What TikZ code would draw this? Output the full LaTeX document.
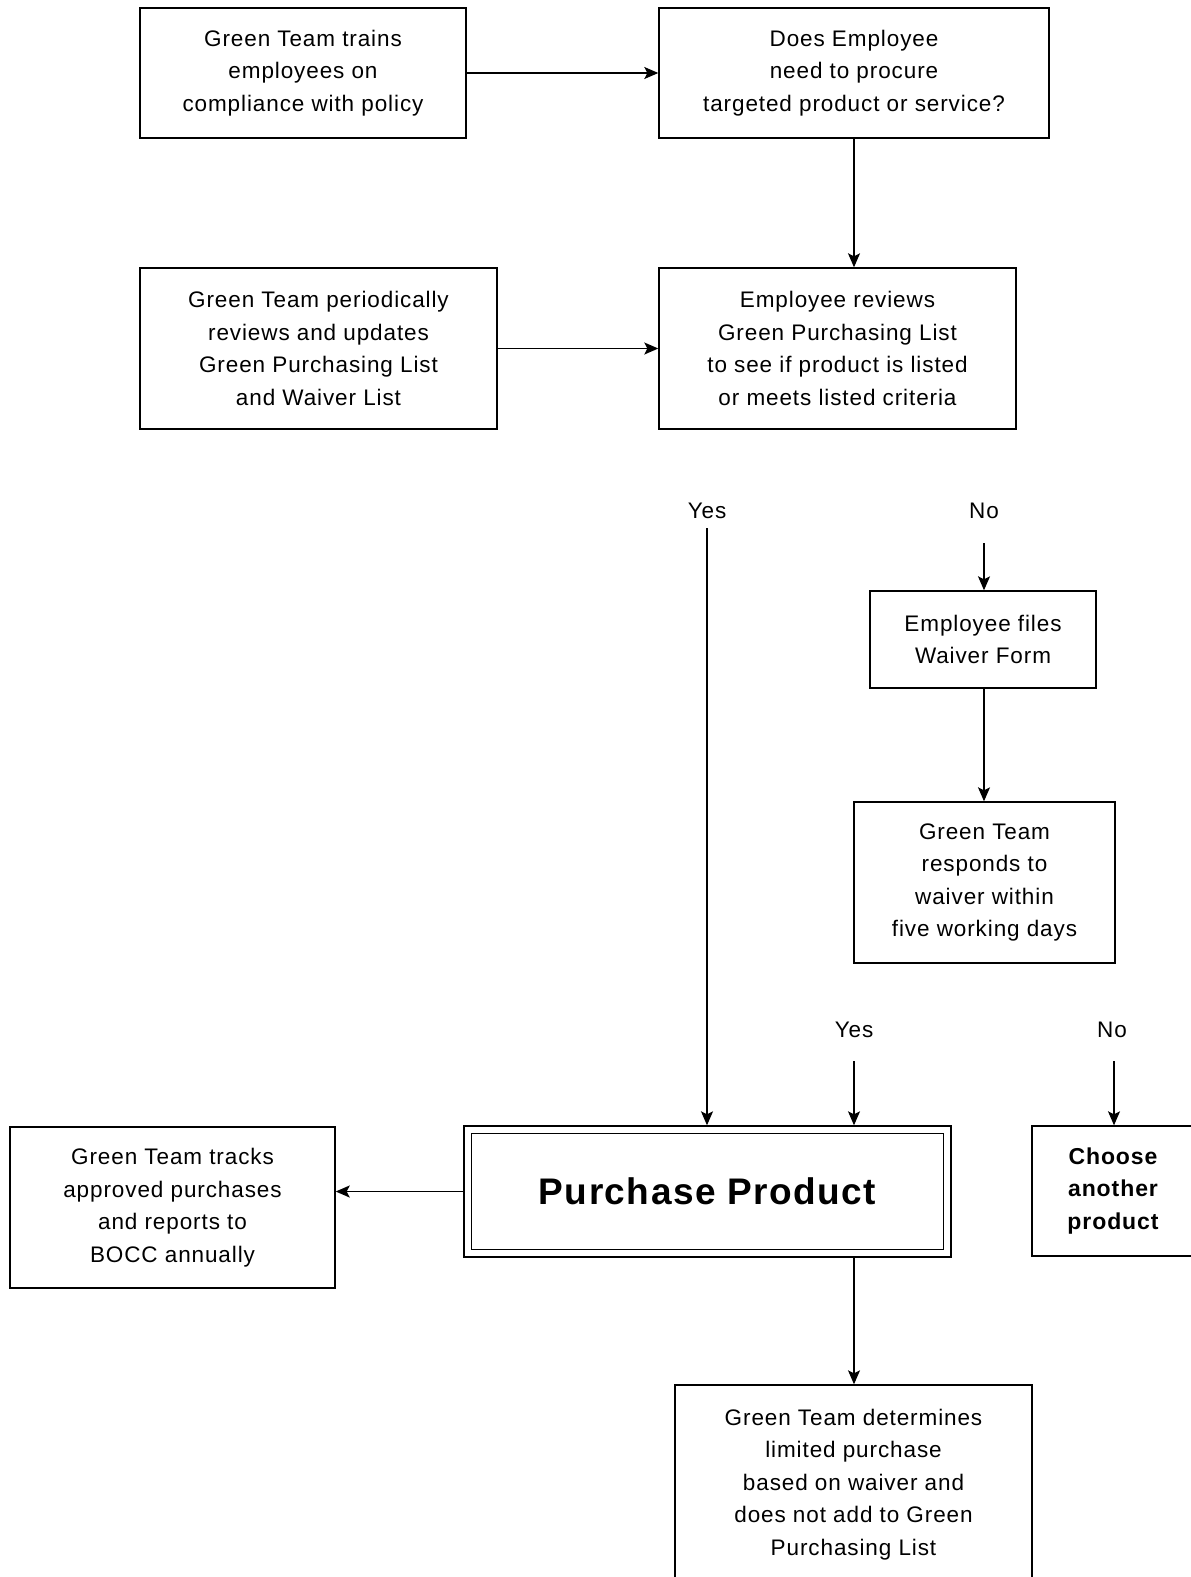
\documentclass[tikz,border=0pt]{standalone}
\usepackage{fontspec}
\setmainfont{Liberation Sans}[LetterSpace=4.0]
\usetikzlibrary{arrows.meta}
\tikzset{
  box/.style={draw, line width=1.4pt, align=center, inner sep=0pt,
    font=\fontsize{22.5}{32.5}\selectfont},
  lbl/.style={inner sep=0pt, font=\fontsize{22.5}{32.5}\selectfont},
  conn/.style={line width=1.4pt, -{Stealth[length=14pt,width=12pt,inset=3pt]}},
}
\begin{document}
\begin{tikzpicture}[x=1pt,y=-1pt]
\useasboundingbox[fill=white] (0,0) rectangle (1191,1577);

\node[box, minimum width=326pt, minimum height=130pt] (train) at (303,73)
  {Green Team trains\\employees on\\compliance with policy};
\node[box, minimum width=390pt, minimum height=130pt] (need) at (854,73)
  {Does Employee\\need to procure\\targeted product or service?};
\node[box, minimum width=357pt, minimum height=161pt] (update) at (318.5,348.5)
  {Green Team periodically\\reviews and updates\\Green Purchasing List\\and Waiver List};
\node[box, minimum width=357pt, minimum height=161pt] (review) at (837.5,348.5)
  {Employee reviews\\Green Purchasing List\\to see if product is listed\\or meets listed criteria};

\node[lbl] (yes1) at (707,511) {Yes};
\node[lbl] (no1) at (984,511) {No};
\coordinate (yes1s) at (707,528);
\coordinate (no1s) at (984,543);

\node[box, minimum width=226pt, minimum height=97pt] (files) at (983,639.5)
  {Employee files\\Waiver Form};
\node[box, minimum width=261pt, minimum height=161pt] (responds) at (984.5,882.5)
  {Green Team\\responds to\\waiver within\\five working days};

\node[lbl] (yes2) at (854,1030) {Yes};
\node[lbl] (no2) at (1112,1030) {No};
\coordinate (yes2s) at (854,1061);
\coordinate (no2s) at (1114,1061);

\node[box, minimum width=487pt, minimum height=131pt,
  font=\fontsize{37}{40}\selectfont\bfseries] (buy) at (707.5,1191.5) {Purchase Product};
\draw[line width=1.4pt] ([shift={(8,8)}]buy.north west) rectangle ([shift={(-8,-8)}]buy.south east);

\node[box, minimum width=162pt, minimum height=130pt,
  font=\fontsize{23}{32.5}\selectfont\bfseries] (choose) at (1113,1191)
  {Choose\\another\\product};

\node[box, minimum width=325pt, minimum height=161pt] (tracks) at (172.5,1207.5)
  {Green Team tracks\\approved purchases\\and reports to\\BOCC annually};

\node[box, minimum width=357pt, minimum height=199pt] (limited) at (853.5,1484.5)
  {Green Team determines\\limited purchase\\based on waiver and\\does not add to Green\\Purchasing List};

\draw[conn] (train) -- (need);
\draw[conn] (need) -- (need |- review.north);
\draw[conn] (update) -- (review);
\draw[conn] (yes1s) -- (yes1s |- buy.north);
\draw[conn] (no1s) -- (no1s |- files.north);
\draw[conn] (files.south -| no1s) -- (no1s |- responds.north);
\draw[conn] (yes2s) -- (yes2s |- buy.north);
\draw[conn] (no2s) -- (no2s |- choose.north);
\draw[conn] (buy.west) -- (buy.west -| tracks.east);
\draw[conn] (buy.south -| yes2s) -- (yes2s |- limited.north);
\end{tikzpicture}
\end{document}
